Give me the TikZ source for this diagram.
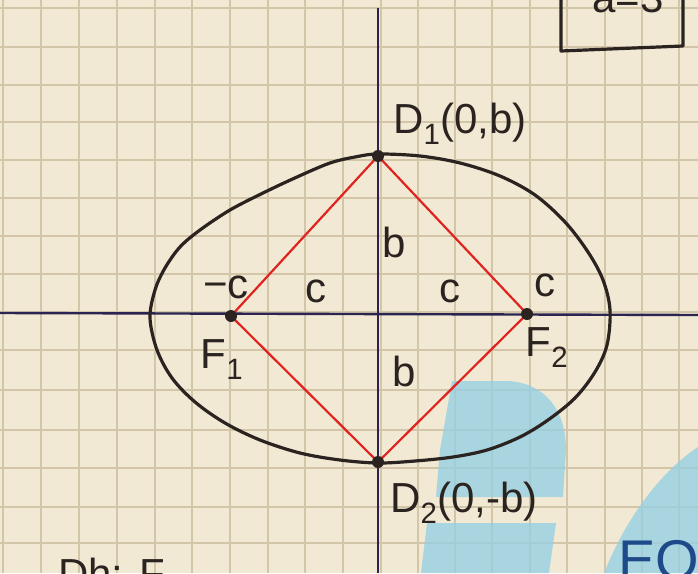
\documentclass[tikz,border=0pt]{standalone}
\usepackage{fontspec}
\setmainfont{Liberation Sans}
\definecolor{paper}{HTML}{F2E9D4}
\definecolor{gridc}{HTML}{D2C5A8}
\definecolor{inkc}{HTML}{2A231F}
\definecolor{axisc}{HTML}{2B2350}
\definecolor{redc}{HTML}{E0231E}
\definecolor{bluec}{HTML}{97D0E3}
\definecolor{darkblue}{HTML}{1F4A8A}
\begin{document}
\begin{tikzpicture}[x=1pt,y=-1pt,
  gridline/.style={gridc,line width=1.4pt},
  axisline/.style={axisc,line width=2.4pt},
  redline/.style={redc,line width=2.2pt,line join=round},
  inkline/.style={inkc,line width=3.2pt,line cap=round,line join=round},
  dot/.style={circle,fill=inkc,inner sep=0pt,minimum size=12pt},
  lab/.style={inkc,inner sep=0pt,font=\fontsize{42}{44}\selectfont},
  wm/.style={fill=bluec,fill opacity=0.8}]
\useasboundingbox (0,0) rectangle (698,573);
\fill[paper] (0,0) rectangle (698,573);
% grid
\foreach \gx in {3,41,79,117,155,192,230,268,305,343,381,418,455,492,530,567,605,642,679}
  \draw[gridline] (\gx,0) -- (\gx,573);
\foreach \gy in {8,47,85,122,160,198,236,274,312,350,390,430,468,507,543}
  \draw[gridline] (0,\gy) -- (698,\gy);
% blue watermark shapes
\fill[wm] (452,381) -- (508,381) .. controls (545,383) and (566,410) .. (566,450) -- (563,497) -- (436,497) -- (440,450) -- cycle;
\fill[wm] (427,523) -- (556,523) -- (549,573) -- (421,573) -- cycle;
\fill[wm] (698,447) .. controls (660,472) and (625,520) .. (604,573) -- (698,573) -- cycle;
% axes
\coordinate (xl) at (0,313);
\coordinate (xr) at (698,315);
\coordinate (yt) at (378,8);
\coordinate (yb) at (378,573);
\draw[axisline] (xl) -- (xr);
\draw[axisline] (yt) -- (yb);
% points
\coordinate (F1) at (231,316);
\coordinate (F2) at (527,314);
\coordinate (D1) at (378,156);
\coordinate (D2) at (378,462);
% ellipse
\draw[inkline] plot[smooth cycle,tension=0.55] coordinates {
 (378,154) (420,156) (460,163) (500,176) (535,195) (565,222) (588,252) (603,280) (610,310)
 (607,345) (595,372) (575,398) (548,420) (520,437) (487,450) (453,457) (415,461)
 (378,463) (340,460) (300,453) (260,440) (225,423) (195,402) (172,378) (157,350) (150,318)
 (155,290) (165,268) (180,247) (200,230) (230,210) (263,193) (297,177) (330,163) (355,157)};
% rhombus
\draw[redline] (F1) -- (D1) -- (F2) -- (D2) -- cycle;
\node[dot] (pF1) at (F1) {};
\node[dot] (pF2) at (F2) {};
\node[dot] (pD1) at (D1) {};
\node[dot] (pD2) at (D2) {};
% labels
\node[lab,anchor=base west] (lD1) at (393,133) {D\textsubscript{1}(0,b)};
\node[lab,anchor=base west] (lD2) at (390,512) {D\textsubscript{2}(0,-b)};
\node[lab,anchor=base] (lmc) at (226,298) {−c};
\node[lab,anchor=base] (lc1) at (316,302) {c};
\node[lab,anchor=base] (lc2) at (450,302) {c};
\node[lab,anchor=base] (lc3) at (545,296) {c};
\node[lab,anchor=base] (lb1) at (394,257) {b};
\node[lab,anchor=base] (lb2) at (404,386) {b};
\node[lab,anchor=base] (lF1) at (222,368) {F\textsubscript{1}};
\node[lab,anchor=base] (lF2) at (547,356) {F\textsubscript{2}};
% top-right box (cut)
\coordinate (bx1) at (561,-5);
\coordinate (bx2) at (561,51);
\coordinate (bx3) at (683,46);
\coordinate (bx4) at (683,-5);
\draw[inkline] (bx1) -- (bx2) -- (bx3) -- (bx4);
\node[lab,anchor=base] (lbox) at (628,12) {a=3};
% bottom cut texts
\node[lab,anchor=north west] (lbl) at (58,558) {Dh: F};
\node[anchor=north west,inner sep=0pt,text=darkblue,font=\fontsize{56}{58}\selectfont] (leo) at (618,540) {EO};
\end{tikzpicture}
\end{document}
